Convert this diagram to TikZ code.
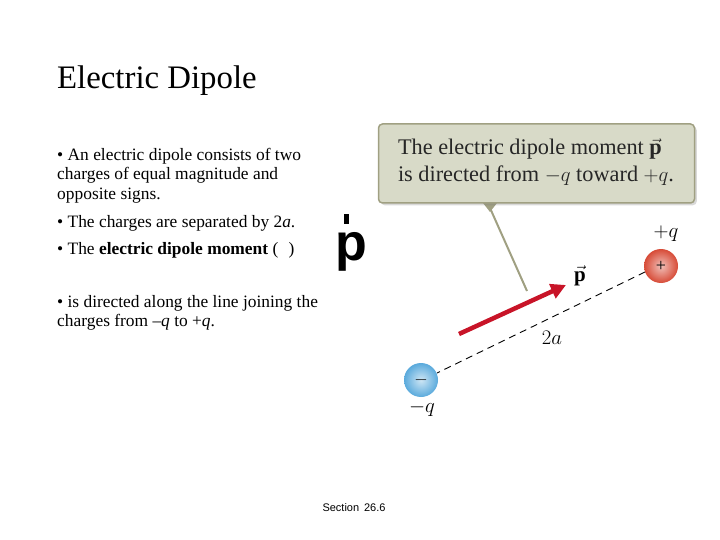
\documentclass[tikz,border=0pt]{standalone}
\usepackage{fontspec}
\setmainfont{Liberation Serif}
\newfontfamily\lsans{Liberation Sans}
\usetikzlibrary{arrows.meta,shadows}
\definecolor{boxfill}{RGB}{216,218,200}
\definecolor{boxline}{RGB}{160,160,130}
\definecolor{pred}{RGB}{200,20,40}
\definecolor{redball}{RGB}{215,75,55}
\definecolor{blueball}{RGB}{90,170,220}
\begin{document}
\begin{tikzpicture}[x=1pt,y=-1pt,
  body/.style={anchor=west,font=\fontsize{17.4}{19.5}\selectfont,align=left,inner sep=0pt},
  lab/.style={font=\fontsize{21}{22}\selectfont,inner sep=0pt}]
\useasboundingbox (0,0) rectangle (720,540);
\node[anchor=west,inner sep=0pt,font=\fontsize{32.8}{36}\selectfont] (title) at (57,81) {Electric Dipole};
\node[body,anchor=north west] (b1) at (57,148) {• An electric dipole consists of two\\charges of equal magnitude and\\opposite signs.};
\node[body] (b2) at (57,223) {• The charges are separated by 2\textit{a}.};
\node[body] (b3) at (57,250) {• The \textbf{electric dipole moment} (\hspace{0.6em})};
\node[body,anchor=north west] (b4) at (57,295) {• is directed along the line joining the\\charges from \textit{–q} to +\textit{q}.};
\node[font=\lsans\bfseries\fontsize{52}{56}\selectfont,inner sep=0pt] (bigp) at (351,252) {p};
\fill (344,214) rectangle (349,224);
\node[font=\lsans\fontsize{11}{13}\selectfont,inner sep=0pt] (sec) at (354,508) {Section\, 26.6};
% callout
\fill[boxline] (483,203) -- (497,203) -- (490,212) -- cycle;
\draw[boxline,line width=2pt] (490,208) -- (527,291);
\node[draw=boxline,fill=boxfill,rounded corners=4pt,line width=1.5pt,minimum width=316pt,minimum height=79pt,drop shadow={opacity=0.3}] (box) at (536.5,163.5) {};
\node[align=left,font=\fontsize{22.3}{26.5}\selectfont,text=black!85] (boxt) at (536,162) {The electric dipole moment $\vec{\mathbf p}$\\is directed from $-q$ toward $+q$.};
% charges
\shade[inner color=redball!35!white,outer color=redball] (661,266) circle (17);
\shade[inner color=blueball!30!white,outer color=blueball] (421,380) circle (17);
\node[inner sep=0pt] (plus) at (661,266) {\fontsize{18}{18}\selectfont +};
\node[inner sep=0pt] (minus) at (421,380) {\fontsize{18}{18}\selectfont $-$};
\coordinate (d1) at (645,272);
\coordinate (d2) at (437,373);
\draw[line width=0.9pt,dash pattern=on 7pt off 5pt] (d1) -- (d2);
\draw[pred,line width=4.5pt,-{Triangle[length=15pt,width=15pt]}] (459,334) -- (566,285);
\node[lab] (pl) at (580,276) {$\vec{\mathbf p}$};
\node[lab] (tq) at (666,234) {$+q$};
\node[lab] (ta) at (552,338) {$2a$};
\node[lab] (mq) at (422,408) {$-q$};
\end{tikzpicture}
\end{document}
